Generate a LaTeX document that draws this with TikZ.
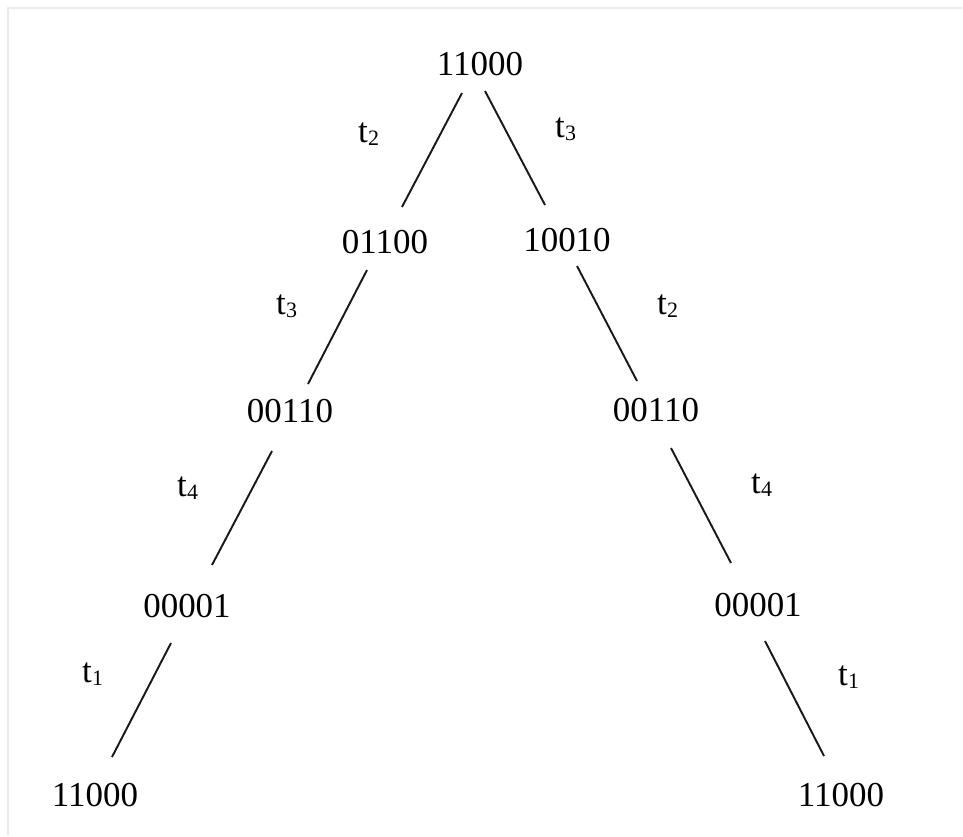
\documentclass[tikz,border=0pt]{standalone}
\usepackage{fontspec}
\setmainfont{Liberation Serif}
\begin{document}
\begin{tikzpicture}[x=0.02cm,y=-0.02cm,
  state/.style={inner sep=0pt,outer sep=0pt,font=\fontsize{19.9}{24}\selectfont},
  trans/.style={inner sep=0pt,outer sep=0pt,anchor=base west,font=\fontsize{19.9}{24}\selectfont},
  edge/.style={line width=1.1pt,draw=black!90}]
\useasboundingbox (0,0) rectangle (963,836);
\draw[draw=black!8,line width=0.8pt] (8,836) -- (8,8) -- (962,8);
% states
\node[state] (n0) at (480,64) {11000};
\node[state] (a) at (385,242) {01100};
\node[state] (b) at (567,240) {10010};
\node[state] (c) at (290,411) {00110};
\node[state] (d) at (656,410) {00110};
\node[state] (e) at (187,606) {00001};
\node[state] (f) at (758,605) {00001};
\node[state] (g) at (95,795) {11000};
\node[state] (h) at (841,795) {11000};
% transitions
\newcommand{\tsub}[1]{t\kern0.01cm\raisebox{-0.06cm}{\fontsize{12.5}{14}\selectfont #1}}
\node[trans] (l1) at (358,142) {\tsub{2}};
\node[trans] (l2) at (555,137) {\tsub{3}};
\node[trans] (l3) at (276,314) {\tsub{3}};
\node[trans] (l4) at (657,314) {\tsub{2}};
\node[trans] (l5) at (177,496) {\tsub{4}};
\node[trans] (l6) at (751,493) {\tsub{4}};
\node[trans] (l7) at (82,682) {\tsub{1}};
\node[trans] (l8) at (838,685) {\tsub{1}};
% edges
\draw[edge] ([shift={(-18,29)}]n0.center) -- ([shift={(17,-35)}]a.center);
\draw[edge] ([shift={(5,27)}]n0.center) -- ([shift={(-22,-35)}]b.center);
\draw[edge] ([shift={(-18,28)}]a.center) -- ([shift={(18,-27)}]c.center);
\draw[edge] ([shift={(10,26)}]b.center) -- ([shift={(-19,-29)}]d.center);
\draw[edge] ([shift={(-18,40)}]c.center) -- ([shift={(25,-41)}]e.center);
\draw[edge] ([shift={(15,38)}]d.center) -- ([shift={(-27,-42)}]f.center);
\draw[edge] ([shift={(-16,37)}]e.center) -- ([shift={(17,-38)}]g.center);
\draw[edge] ([shift={(7,36)}]f.center) -- ([shift={(-17,-39)}]h.center);
\end{tikzpicture}
\end{document}
